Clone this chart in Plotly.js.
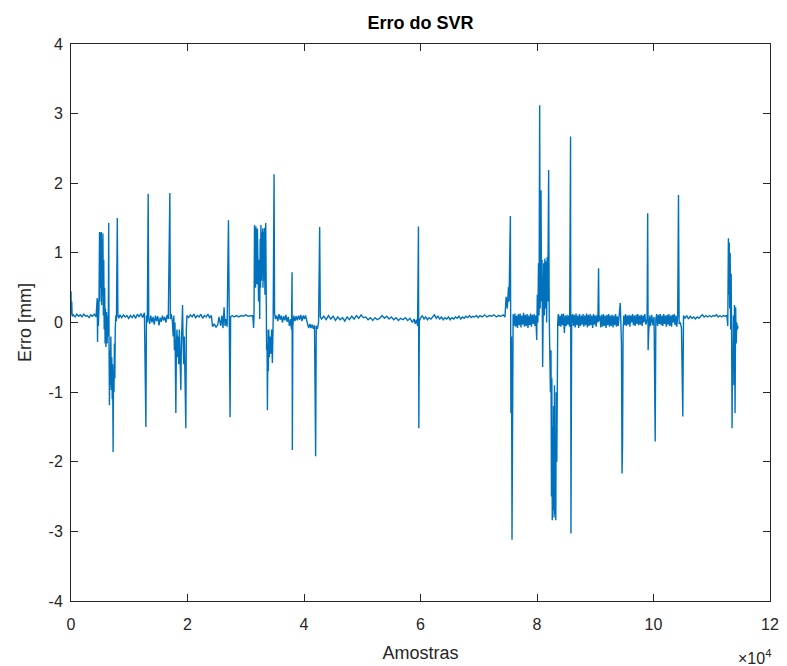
<!DOCTYPE html>
<html>
<head>
<meta charset="utf-8">
<script src="https://cdn.plot.ly/plotly-3.0.1.min.js"></script>
<style>html,body{margin:0;padding:0;background:#fff;}#chart{width:787px;height:666px;}</style>
</head>
<body>
<div id="chart"></div>
<script>
// Sample index (Amostras) and error values (Erro [mm])
const sampleIdx = [
0,60,120,200,400,700,1000,1300,1600,1900,2200,2500,2800,3100,3400,3700,4000,4300,
4500,4560,4620,4700,4800,4900,4950,5050,5120,5200,5260,5340,5400,5480,5550,5620,5700,5780,5850,5920,6000,6100,6200,6300,6400,6470,6530,6600,6680,6760,6840,6920,7000,7080,7150,7230,7300,7380,7450,7530,7600,7700,7800,7950,8050,8200,8400,
8700,9000,9300,9600,9900,10200,10500,10800,11100,11400,11700,12000,12300,12600,12860,12950,13100,13250,13350,13500,
13700,13900,14100,14300,14500,14700,14900,15100,15300,15500,15700,15900,16100,16300,16500,16700,16970,17050,17200,17400,
17550,17650,17750,17850,18000,18100,18200,18300,18400,18500,18600,18700,18860,18950,19050,19150,19250,19350,19450,19550,19714,19800,19900,
20200,20500,20800,21100,21400,21700,22000,22300,22600,22900,23200,23500,23800,24100,24300,24600,24900,25200,25400,25700,25900,26100,26280,26450,26600,26800,27030,27150,27310,27400,27700,
28000,28400,28800,29200,29600,30000,30400,30800,31200,
31350,31420,31500,31560,31620,31680,31740,31800,31870,31930,32000,32060,32130,32200,32280,32400,32480,32540,32600,32680,32750,32820,32900,32960,33040,33100,33200,33300,33430,33500,33580,33650,33720,33800,33880,33950,34050,34150,34300,34450,34570,34700,34860,34950,35100,
35300,35500,35700,35900,36100,36300,36500,36700,36900,37100,37300,37500,37700,37850,37950,38000,38080,38250,38450,38650,38850,39050,39250,39450,39650,39850,40050,40250,40500,40800,41000,41200,41400,41600,41800,42000,42100,42300,42500,42690,42800,43000,
43400,43800,44200,44600,45000,45400,45800,46200,46600,47000,47400,47800,48200,48600,49000,49400,49800,50200,50600,51000,51400,51800,52200,52600,53000,53400,53800,54200,54600,55000,55400,55800,56200,56600,57000,57400,57800,58200,58600,58900,59100,59300,59500,59650,59714,59800,60000,60300,
60600,60900,61200,61500,61800,62100,62400,62700,63000,63300,63600,63900,64200,64500,64800,65100,65400,65700,66000,66300,66600,66900,67200,67500,67800,68100,68400,68700,69000,69300,69600,69900,
70200,70600,71000,71400,71800,72200,72600,73000,73400,73800,74200,74500,74700,74900,75100,75200,75430,75520,75620,75710,75800,75900,76050,76200,76350,76500,76650,76800,76950,77100,77250,77400,77550,77700,77850,78000,78150,78300,78450,78600,78750,78900,79050,79200,79350,79500,79650,79800,79950,
80050,80150,80250,80350,80460,80550,80690,80780,80860,80970,81050,81150,81250,81350,81450,81550,81650,81750,81850,82000,82100,82200,82300,82400,82480,82550,82620,82700,82780,82850,82930,83000,83080,83150,83230,83300,83400,83480,83560,83650,
83800,83950,84100,84250,84400,84550,84700,84850,85000,85150,85300,85450,85600,85760,85830,85950,86100,86250,86400,86550,86700,86850,87000,87150,87300,87450,87600,87750,87900,88050,88200,88350,88500,88650,88800,88950,89100,89250,89400,89550,89700,89850,90000,90150,90300,90450,90570,90650,
90800,90950,91100,91250,91400,91550,91700,91850,92000,92150,92300,92450,92600,92750,92900,93050,93200,93350,93500,93650,93800,93950,94100,94290,94500,94600,94690,94780,94900,95050,95200,95350,95500,95650,95800,95950,96100,96250,96400,96550,96700,96850,97000,97150,97300,97450,97600,97750,97900,98050,98200,98350,98500,98700,98900,
99000,99080,99200,99350,99500,99700,99900,100100,100290,100400,100550,100700,100850,101000,101150,101300,101450,101600,101750,101900,102050,102200,102350,102500,102650,102800,102950,103100,103250,103400,103550,103700,103850,104000,104150,104290,104400,104600,104800,105030,
105150,105400,105700,106000,106300,106600,106900,107200,107500,107800,108100,108400,108700,109000,109300,109600,109900,110200,110500,110800,111100,111400,111700,112000,112300,112600,
112750,112860,112940,113000,113080,113160,113250,113330,113420,113486,113560,113650,113720,113800,113900,114000,114100,114200,114300,114400,114500
];
const errorMm = [
0.45,0.12,0.30,0.09,0.11,0.08,0.12,0.09,0.11,0.08,0.12,0.09,0.10,0.07,0.11,0.09,0.12,0.08,
0.35,-0.28,0.32,-0.05,0.20,1.30,0.30,1.29,0.50,1.30,0.25,1.20,0.40,1.28,0.10,0.90,-0.10,0.50,-0.30,0.20,-0.35,0.15,-0.30,0.10,-0.20,1.43,-0.30,-1.19,-0.40,-0.90,-0.20,-0.97,-0.50,-1.10,-0.60,-1.86,-0.70,-1.00,-0.30,-0.80,-0.10,0.10,0.02,1.50,0.10,0.06,0.11,
0.07,0.11,0.08,0.10,0.06,0.10,0.07,0.11,0.06,0.12,0.08,0.13,0.07,0.14,-1.50,0.10,0.00,1.85,0.05,-0.02,
0.10,0.00,0.08,-0.03,0.10,0.02,0.09,-0.04,0.07,0.01,0.10,0.03,0.08,0.00,0.11,0.05,1.86,0.05,0.12,0.02,
-0.20,0.10,-0.40,0.00,-1.30,-0.30,-0.10,-0.50,-0.20,-0.60,-0.10,-0.45,-0.97,-0.30,0.00,0.25,-0.30,-0.60,-0.20,-0.70,-1.52,-0.10,0.10,
0.07,0.11,0.08,0.12,0.07,0.10,0.08,0.12,0.06,0.10,0.08,0.12,0.07,0.10,-0.06,-0.02,-0.07,-0.03,0.08,-0.05,0.10,-0.08,0.22,-0.05,0.05,-0.06,1.47,0.05,-1.36,0.08,0.10,
0.08,0.10,0.08,0.10,0.09,0.11,0.09,0.10,0.10,
-0.08,0.10,1.40,0.60,1.30,0.50,1.38,0.70,1.25,0.55,1.35,0.80,1.10,0.30,0.90,0.05,1.20,0.50,1.40,0.60,1.30,0.70,1.35,0.50,1.30,0.60,1.36,0.40,1.43,0.10,-0.40,-0.10,-1.26,-0.30,-0.70,-0.10,-0.50,-0.20,-0.45,-0.10,-0.58,0.00,2.13,0.13,0.05,
0.10,0.02,0.12,0.04,0.10,0.00,0.09,0.03,0.11,0.01,0.08,-0.05,0.05,-0.10,0.72,-1.83,-0.05,0.10,0.02,0.09,0.03,0.10,0.04,0.11,0.02,0.10,0.05,0.10,0.00,-0.08,-0.02,-0.08,-0.03,-0.09,-0.04,-1.92,-0.05,-0.09,0.00,1.37,0.08,0.05,
0.09,0.04,0.10,0.05,0.09,0.03,0.08,0.04,0.07,0.02,0.08,0.04,0.09,0.05,0.10,0.06,0.11,0.07,0.08,0.04,0.07,0.03,0.07,0.04,0.06,0.10,0.06,0.09,0.05,0.08,0.04,0.07,0.03,0.06,0.04,0.07,0.03,0.06,0.00,0.05,-0.02,0.04,-0.05,1.38,-1.52,0.02,0.06,0.10,
0.05,0.08,0.04,0.07,0.05,0.09,0.11,0.06,0.09,0.05,0.08,0.04,0.07,0.05,0.08,0.04,0.07,0.05,0.08,0.06,0.09,0.05,0.08,0.06,0.09,0.07,0.10,0.07,0.09,0.08,0.10,0.07,
0.10,0.08,0.11,0.08,0.10,0.09,0.11,0.08,0.10,0.09,0.11,0.08,0.37,0.20,0.51,0.30,1.53,-1.30,-0.20,-3.12,-0.05,0.12,-0.05,0.13,-0.06,0.10,-0.08,0.12,-0.04,0.13,-0.07,0.10,-0.03,0.14,-0.06,0.11,-0.05,0.12,-0.08,0.10,-0.04,0.13,-0.06,0.11,-0.02,0.12,-0.05,0.10,-0.25,
0.40,0.00,0.85,0.10,3.12,0.20,1.90,0.30,0.90,-0.64,0.50,0.85,0.10,0.92,0.20,0.88,0.00,0.94,0.30,2.19,0.10,-0.30,-1.00,-0.40,-2.50,-0.80,-2.84,-1.50,-2.70,-1.20,-2.80,-0.90,-2.75,-1.80,-2.84,-1.00,-2.00,-0.30,0.00,0.12,
-0.05,0.10,-0.06,0.12,-0.04,0.13,-0.15,0.10,-0.05,0.11,-0.03,0.10,-0.06,2.67,-3.03,0.05,0.12,-0.05,0.11,-0.07,0.13,-0.04,0.10,-0.08,0.12,-0.05,0.10,-0.03,0.12,-0.06,0.10,-0.04,0.13,-0.07,0.11,-0.05,0.12,-0.04,0.10,-0.08,0.12,-0.03,0.10,-0.06,0.11,0.00,0.78,0.02,
0.10,-0.07,0.11,-0.06,0.12,-0.05,0.10,-0.08,0.11,-0.04,0.12,-0.06,0.10,-0.05,0.11,-0.07,0.10,-0.04,0.12,-0.06,0.09,-0.05,0.10,0.28,-0.30,-2.17,-1.73,-0.10,0.10,-0.04,0.12,-0.05,0.10,-0.03,0.11,-0.06,0.10,0.00,0.12,-0.04,0.10,-0.05,0.11,-0.02,0.12,-0.04,0.10,-0.03,0.11,-0.05,0.10,0.00,0.12,-0.03,0.05,
1.57,-0.40,-0.10,0.10,-0.05,0.11,-0.04,0.08,-1.71,0.05,0.12,-0.05,0.11,-0.02,0.12,-0.04,0.10,-0.05,0.12,-0.02,0.10,-0.06,0.11,-0.03,0.12,-0.05,0.10,-0.06,0.11,0.00,0.12,-0.04,0.10,-0.06,0.10,1.83,-0.02,0.00,-0.08,-1.35,
0.10,0.06,0.10,0.05,0.09,0.06,0.08,0.05,0.08,0.06,0.09,0.11,0.08,0.10,0.08,0.10,0.08,0.10,0.09,0.11,0.08,0.10,0.08,0.10,0.09,0.10,
-0.05,1.21,0.40,1.15,0.20,1.00,-0.10,0.70,-0.30,-1.52,-0.40,-0.60,0.10,-0.90,0.25,-1.30,0.22,-0.30,0.00,-0.10,-0.05
];
const xTickVals = [0,20000,40000,60000,80000,100000,120000];
const xTickText = ['0','2','4','6','8','10','12'];
const yTickVals = [-4,-3,-2,-1,0,1,2,3,4];
const yTickText = ['-4','-3','-2','-1','0','1','2','3','4'];

const axisColor = '#262626';
const fontFam = 'Liberation Sans, Arial, Helvetica, sans-serif';

const trace = {
  x: sampleIdx, y: errorMm, type: 'scatter', mode: 'lines',
  line: {color: '#0072BD', width: 1.4}, hoverinfo: 'skip'
};

const layout = {
  width: 787, height: 666,
  margin: {l: 71, r: 17, t: 44, b: 65, pad: 0},
  paper_bgcolor: '#fff', plot_bgcolor: '#fff',
  showlegend: false,
  font: {family: fontFam, color: axisColor},
  title: {text: '<b>Erro do SVR</b>', x: 0.5, xref: 'paper', xanchor: 'center',
          y: 1 - 23/666, yref: 'container', yanchor: 'middle',
          font: {family: fontFam, size: 18, color: '#000'}},
  xaxis: {range: [0, 120000], tickvals: xTickVals, ticktext: xTickText,
          ticks: 'inside', ticklen: 7, tickwidth: 1, tickcolor: axisColor,
          showline: true, linecolor: axisColor, linewidth: 1, mirror: 'ticks',
          showgrid: false, zeroline: false, ticklabelstandoff: 9,
          tickfont: {family: fontFam, size: 16, color: axisColor},
          title: {text: 'Amostras', font: {family: fontFam, size: 18, color: axisColor}, standoff: 14}},
  yaxis: {range: [-4, 4], tickvals: yTickVals, ticktext: yTickText,
          ticks: 'inside', ticklen: 7, tickwidth: 1, tickcolor: axisColor,
          showline: true, linecolor: axisColor, linewidth: 1, mirror: 'ticks',
          showgrid: false, zeroline: false, ticklabelstandoff: 4,
          tickfont: {family: fontFam, size: 16, color: axisColor},
          title: {text: 'Erro [mm]', font: {family: fontFam, size: 18, color: axisColor}, standoff: 12}},
  annotations: [{text: '×10<sup>4</sup>', xref: 'paper', yref: 'paper', x: 1.005, y: -0.1,
                 xanchor: 'right', yanchor: 'middle', showarrow: false,
                 font: {family: fontFam, size: 16, color: axisColor}}]
};

Plotly.newPlot('chart', [trace], layout, {displayModeBar: false, staticPlot: true});
</script>
</body>
</html>
